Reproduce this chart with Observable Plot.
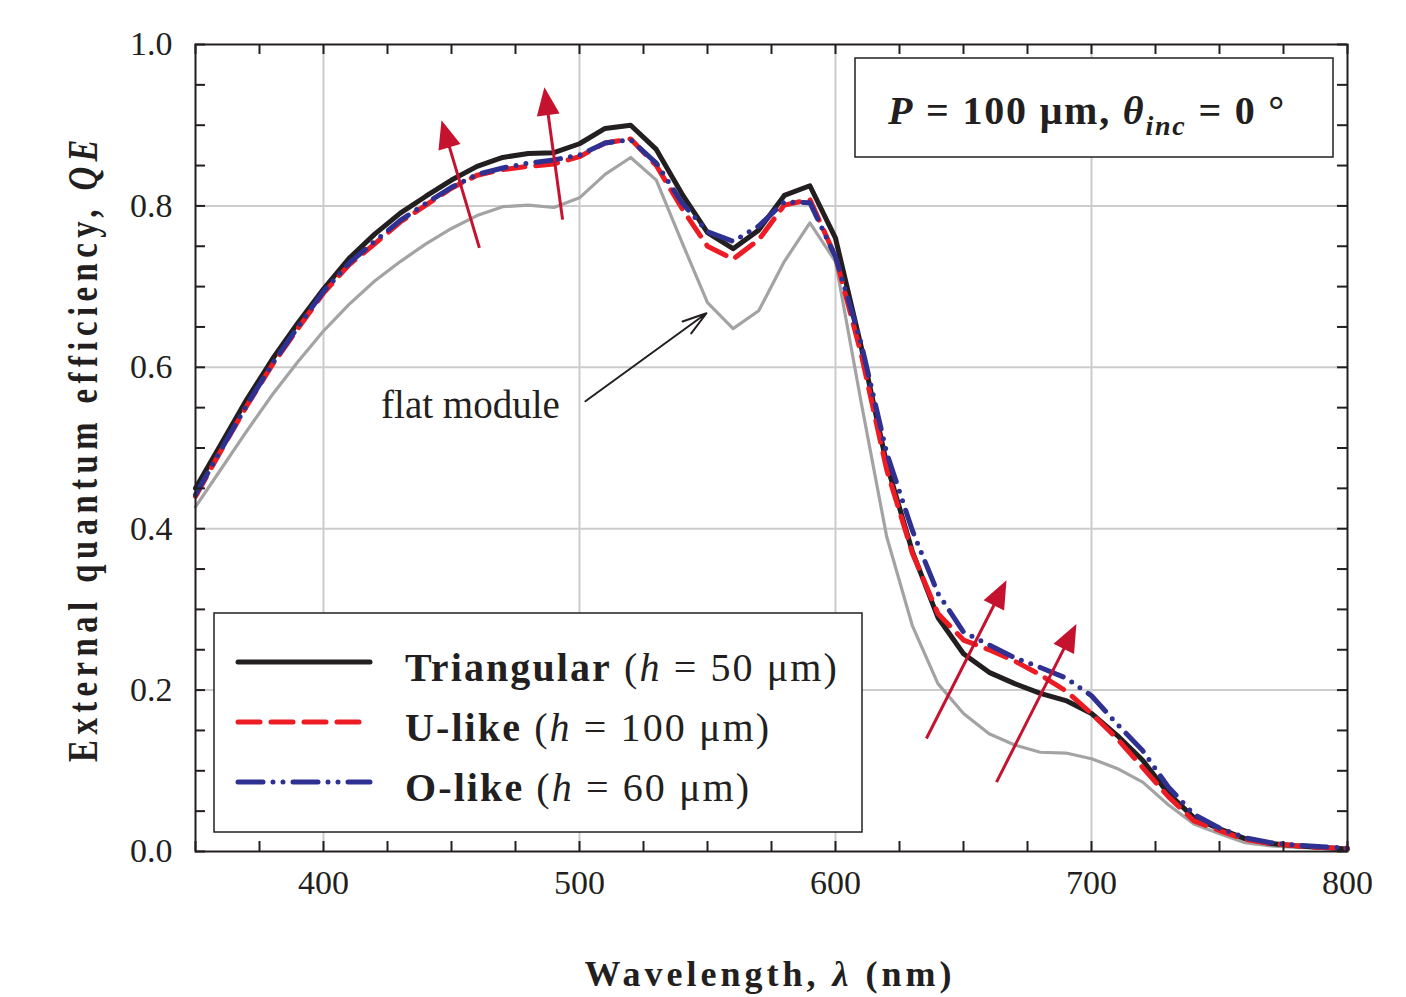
<!DOCTYPE html>
<html><head><meta charset="utf-8">
<script src="https://cdn.jsdelivr.net/npm/d3@7"></script>
<script src="https://cdn.jsdelivr.net/npm/@observablehq/plot@0.6"></script>
<style>body{margin:0;background:#fff}</style>
</head><body><div id="chart"></div>
<script>
// ---- data ----
const wavelength = [350,360,370,380,390,400,410,420,430,440,450,460,470,480,490,500,510,520,530,540,550,560,570,580,590,600,610,620,630,640,650,660,670,680,690,700,710,720,730,740,750,760,770,780,790,800];
const triangular = [0.450,0.505,0.560,0.610,0.655,0.697,0.735,0.765,0.791,0.812,0.832,0.849,0.860,0.865,0.866,0.877,0.896,0.900,0.870,0.815,0.767,0.747,0.770,0.813,0.825,0.760,0.626,0.480,0.372,0.290,0.245,0.222,0.208,0.196,0.187,0.171,0.144,0.113,0.072,0.042,0.028,0.016,0.010,0.007,0.005,0.003];
const uLike = [0.440,0.497,0.552,0.603,0.648,0.692,0.727,0.753,0.780,0.801,0.822,0.838,0.845,0.849,0.852,0.861,0.878,0.883,0.850,0.797,0.750,0.734,0.758,0.801,0.808,0.737,0.617,0.473,0.370,0.295,0.262,0.250,0.236,0.219,0.199,0.171,0.140,0.104,0.068,0.038,0.026,0.015,0.010,0.007,0.005,0.004];
const oLike = [0.442,0.498,0.553,0.604,0.650,0.694,0.729,0.756,0.782,0.803,0.823,0.839,0.847,0.853,0.857,0.863,0.878,0.882,0.853,0.804,0.768,0.756,0.775,0.805,0.804,0.737,0.630,0.494,0.398,0.320,0.272,0.256,0.240,0.228,0.215,0.193,0.158,0.125,0.080,0.046,0.029,0.017,0.011,0.008,0.006,0.004];
const flatModule = [0.427,0.474,0.521,0.566,0.607,0.645,0.678,0.707,0.731,0.753,0.772,0.788,0.799,0.801,0.798,0.810,0.839,0.860,0.832,0.755,0.680,0.648,0.670,0.731,0.779,0.731,0.557,0.390,0.280,0.208,0.171,0.146,0.132,0.123,0.122,0.115,0.103,0.086,0.058,0.034,0.022,0.011,0.007,0.005,0.004,0.003];

const legendNames = ["Triangular", "U-like", "O-like"];
const legendParams = ["50", "100", "60"];
const flatLabel = "flat module";

const xTickValues = [400, 500, 600, 700, 800];
const xTickLabels = ["400", "500", "600", "700", "800"];
const yTickValues = [0, 0.2, 0.4, 0.6, 0.8, 1.0];
const yTickLabels = ["0.0", "0.2", "0.4", "0.6", "0.8", "1.0"];
const xMinorTicks = [350,375,400,425,450,475,500,525,550,575,600,625,650,675,700,725,750,775,800];
const yMinorTicks = [0,0.05,0.1,0.15,0.2,0.25,0.3,0.35,0.4,0.45,0.5,0.55,0.6,0.65,0.7,0.75,0.8,0.85,0.9,0.95,1.0];

// annotation arrows (data coordinates): tail (x1,y1) -> tip (x2,y2)
const trendArrowX1 = [460.9, 493.4, 635.5, 662.9];
const trendArrowY1 = [0.748, 0.783, 0.140, 0.086];
const trendArrowX2 = [446.1, 486.3, 666.8, 694.1];
const trendArrowY2 = [0.906, 0.947, 0.336, 0.282];
const flatArrowFrom = [502.3, 0.558];
const flatArrowTo = [549.6, 0.667];
const flatLabelPos = [457.4, 0.553];

// ---- layout / style ----
const W = 1406, H = 997;
const mL = 195, mR = 59, mT = 44, mB = 146;
const frameW = W - mL - mR, frameH = H - mT - mB;
const ink = "#231f20";
const cBlack = "#231f20", cRed = "#ed1c24", cBlue = "#2e3192", cGray = "#a3a3a3", cArrow = "#c4122f";
const serif = "'Liberation Serif', 'Times New Roman', serif";
const redDash = "22,11", blueDash = "25,10,0,10,0,10";

const rows = (arr) => wavelength.map((w, i) => ({w, v: arr[i]}));

// arrow geometry in pixel space (for rotation of the heads)
const pxPerX = frameW / (800 - 350), pxPerY = frameH / 1;
const trendArrows = trendArrowX1.map((x1, i) => {
  const y1 = trendArrowY1[i], x2 = trendArrowX2[i], y2 = trendArrowY2[i];
  const dxp = (x2 - x1) * pxPerX, dyp = -(y2 - y1) * pxPerY;
  const len = Math.hypot(dxp, dyp);
  const f = 1 - 22 / len;
  return {x1, y1, x2, y2, sx: x1 + (x2 - x1) * f, sy: y1 + (y2 - y1) * f,
          angle: Math.atan2(dxp, -dyp) * 180 / Math.PI};
});
const headSymbol = {draw(ctx) { ctx.moveTo(0, 0); ctx.lineTo(-11.5, 28); ctx.lineTo(11.5, 28); ctx.closePath(); }};

const chart = Plot.plot({
  width: W, height: H,
  marginLeft: mL, marginRight: mR, marginTop: mT, marginBottom: mB,
  x: {domain: [350, 800], axis: null},
  y: {domain: [0, 1], axis: null},
  style: {fontFamily: serif, background: "#fff", color: ink},
  marks: [
    Plot.gridX(xTickValues.slice(0, -1), {stroke: "#cccccc", strokeOpacity: 1, strokeWidth: 2}),
    Plot.gridY(yTickValues.slice(1, -1), {stroke: "#cccccc", strokeOpacity: 1, strokeWidth: 2}),
    Plot.line(rows(flatModule), {x: "w", y: "v", stroke: cGray, strokeWidth: 3.2}),
    Plot.line(rows(triangular), {x: "w", y: "v", stroke: cBlack, strokeWidth: 5}),
    Plot.line(rows(uLike), {x: "w", y: "v", stroke: cRed, strokeWidth: 5, strokeDasharray: redDash, strokeLinecap: "round"}),
    Plot.line(rows(oLike), {x: "w", y: "v", stroke: cBlue, strokeWidth: 5, strokeDasharray: blueDash, strokeLinecap: "round"}),
    Plot.link(trendArrows, {x1: "x1", y1: "y1", x2: "sx", y2: "sy", stroke: cArrow, strokeWidth: 3}),
    Plot.dot(trendArrows, {x: "x2", y: "y2", symbol: headSymbol, r: 10, rotate: "angle", fill: cArrow, stroke: "none"}),
    Plot.arrow([0], {x1: () => flatArrowFrom[0], y1: () => flatArrowFrom[1], x2: () => flatArrowTo[0], y2: () => flatArrowTo[1], stroke: ink, strokeWidth: 2, headLength: 19, headAngle: 34}),
    Plot.text([flatLabel], {x: () => flatLabelPos[0], y: () => flatLabelPos[1], text: d => d, fontSize: 39, fill: ink, ariaLabel: "flatlabel"}),
    Plot.tickX(xMinorTicks, {x: d => d, insetTop: frameH - 10, stroke: ink, strokeWidth: 2}),
    Plot.tickX(xMinorTicks, {x: d => d, insetBottom: frameH - 10, stroke: ink, strokeWidth: 2}),
    Plot.tickY(yMinorTicks, {y: d => d, insetRight: frameW - 10, stroke: ink, strokeWidth: 2}),
    Plot.tickY(yMinorTicks, {y: d => d, insetLeft: frameW - 10, stroke: ink, strokeWidth: 2}),
    Plot.frame({stroke: ink, strokeWidth: 2}),
    Plot.text(xTickValues, {x: d => d, text: (d, i) => xTickLabels[i], frameAnchor: "bottom", dy: 42, fontSize: 34, fill: ink, ariaLabel: "xticklabels"}),
    Plot.text(yTickValues, {y: d => d, text: (d, i) => yTickLabels[i], frameAnchor: "left", textAnchor: "end", dx: -23, fontSize: 34, fill: ink, ariaLabel: "yticklabels"})
  ]
});
document.getElementById("chart").appendChild(chart);

const svg = d3.select(chart);
svg.selectAll('g[aria-label="flatlabel"] text').attr("letter-spacing", "3.8px");
svg.selectAll('g[aria-label="xticklabels"] text').attr("letter-spacing", "2.5px");
svg.selectAll('g[aria-label="yticklabels"] text').attr("letter-spacing", "1.5px");

// x-axis title
const xt = svg.append("text").attr("x", 770).attr("y", 986).attr("text-anchor", "middle")
  .attr("font-family", serif).attr("font-size", 36).attr("font-weight", "bold").attr("letter-spacing", "4px").attr("fill", ink);
xt.append("tspan").text("Wavelength, ");
xt.append("tspan").attr("font-style", "italic").text("λ");
xt.append("tspan").text(" (nm)");

// y-axis title
const yt = svg.append("text").attr("transform", "translate(97,448) rotate(-90) scale(0.78,1)").attr("text-anchor", "middle")
  .attr("font-family", serif).attr("font-size", 42).attr("font-weight", "bold").attr("letter-spacing", "7px").attr("fill", ink);
yt.append("tspan").text("External quantum efficiency, ");
yt.append("tspan").attr("font-style", "italic").text("QE");

// parameter box (top right)
svg.append("rect").attr("x", 855).attr("y", 58).attr("width", 478).attr("height", 99)
  .attr("fill", "#fff").attr("stroke", ink).attr("stroke-width", 1.5);
const pt = svg.append("text").attr("x", 888).attr("y", 124).attr("text-anchor", "start")
  .attr("font-family", serif).attr("font-size", 40).attr("font-weight", "bold").attr("letter-spacing", "1.8px").attr("fill", ink);
pt.append("tspan").attr("font-style", "italic").text("P");
pt.append("tspan").text(" = 100 μm, ");
pt.append("tspan").attr("font-style", "italic").text("θ");
pt.append("tspan").attr("font-style", "italic").attr("font-size", 28).attr("dy", 11).text("inc");
pt.append("tspan").attr("dy", -11).text(" = 0 °");

// legend
svg.append("rect").attr("x", 214).attr("y", 613).attr("width", 648).attr("height", 219)
  .attr("fill", "#fff").attr("stroke", ink).attr("stroke-width", 1.5);
const legendStyles = [
  {stroke: cBlack, dash: null},
  {stroke: cRed, dash: redDash},
  {stroke: cBlue, dash: blueDash}
];
legendNames.forEach((name, i) => {
  const cy = 662 + i * 60;
  const ln = svg.append("line").attr("x1", 238).attr("x2", 370).attr("y1", cy).attr("y2", cy)
    .attr("stroke", legendStyles[i].stroke).attr("stroke-width", 5).attr("stroke-linecap", "round");
  if (legendStyles[i].dash) ln.attr("stroke-dasharray", legendStyles[i].dash);
  const t = svg.append("text").attr("x", 405).attr("y", cy + 19).attr("text-anchor", "start")
    .attr("font-family", serif).attr("font-size", 40).attr("letter-spacing", "2.1px").attr("fill", ink);
  t.append("tspan").attr("font-weight", "bold").text(name);
  t.append("tspan").text(" (");
  t.append("tspan").attr("font-style", "italic").text("h");
  t.append("tspan").text(" = " + legendParams[i] + " μm)");
});
</script>
</body></html>
